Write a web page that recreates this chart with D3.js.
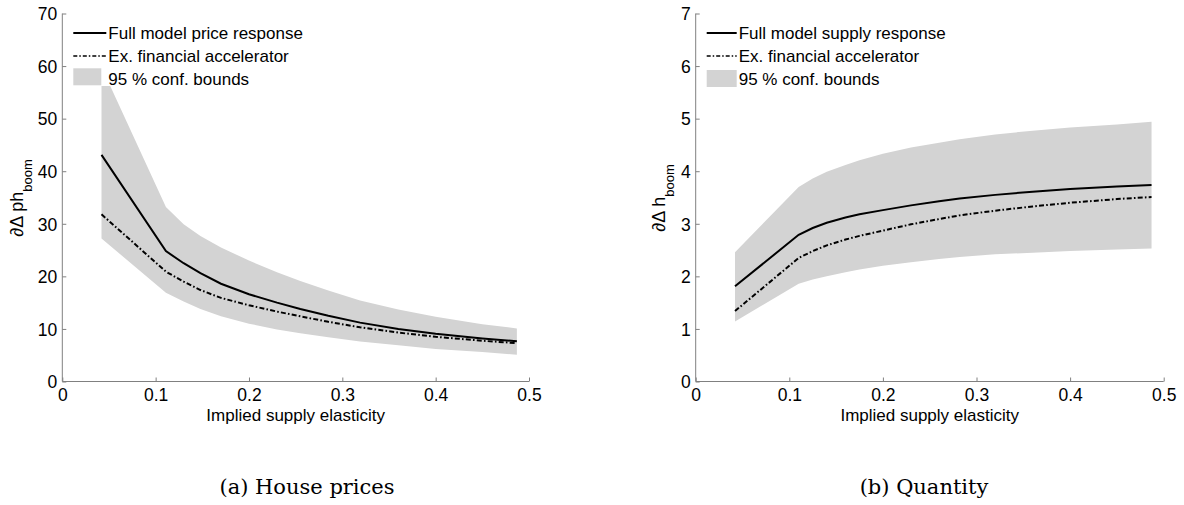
<!DOCTYPE html>
<html><head><meta charset="utf-8">
<script src="https://cdn.jsdelivr.net/npm/d3@7"></script>
<style>body{margin:0;background:#fff;} svg{display:block;}</style>
</head><body><svg id="c" width="1184" height="505"></svg>
<script>
// ---- Data: panel (a) House prices ----
const xPrice = [0.042, 0.111, 0.13, 0.148, 0.17, 0.2, 0.23, 0.255, 0.285, 0.319, 0.36, 0.4, 0.45, 0.487];
const fullPrice = [43.1, 24.8, 22.5, 20.6, 18.6, 16.6, 15.0, 13.8, 12.5, 11.2, 10.0, 9.1, 8.2, 7.65];
const exPrice = [31.8, 20.9, 19.0, 17.4, 15.9, 14.5, 13.3, 12.4, 11.35, 10.3, 9.3, 8.5, 7.75, 7.3];
const upperPrice = [59.8, 33.2, 29.9, 27.7, 25.5, 23.0, 20.8, 19.1, 17.3, 15.4, 13.7, 12.3, 10.9, 10.1];
const lowerPrice = [27.2, 16.9, 15.2, 13.8, 12.4, 11.0, 9.9, 9.2, 8.4, 7.6, 6.9, 6.2, 5.6, 5.1];
// ---- Data: panel (b) Quantity ----
const xQty = [0.042, 0.11, 0.125, 0.14, 0.16, 0.175, 0.2, 0.23, 0.26, 0.282, 0.32, 0.36, 0.4, 0.45, 0.487];
const fullQty = [1.81, 2.79, 2.92, 3.02, 3.12, 3.18, 3.26, 3.35, 3.43, 3.48, 3.55, 3.61, 3.66, 3.71, 3.74];
const exQty = [1.34, 2.35, 2.48, 2.59, 2.70, 2.77, 2.87, 2.99, 3.09, 3.16, 3.25, 3.33, 3.40, 3.47, 3.51];
const upperQty = [2.46, 3.70, 3.86, 3.99, 4.12, 4.21, 4.33, 4.45, 4.54, 4.61, 4.70, 4.77, 4.83, 4.89, 4.94];
const lowerQty = [1.14, 1.86, 1.94, 2.00, 2.08, 2.13, 2.20, 2.27, 2.33, 2.37, 2.42, 2.45, 2.48, 2.51, 2.53];
// ---- Ticks / labels ----
const xTicks = [0, 0.1, 0.2, 0.3, 0.4, 0.5];
const yTicksPrice = [0, 10, 20, 30, 40, 50, 60, 70];
const yTicksQty = [0, 1, 2, 3, 4, 5, 6, 7];
const legendPrice = ["Full model price response", "Ex. financial accelerator", "95 % conf. bounds"];
const legendQty = ["Full model supply response", "Ex. financial accelerator", "95 % conf. bounds"];
const xTitle = "Implied supply elasticity";
const captions = ["(a) House prices", "(b) Quantity"];

const svg = d3.select("#c");
const FONT = "'Liberation Sans', Arial, Helvetica, sans-serif";
const BAND = "#d3d3d3", AX = "#808080";

function panel(cfg) {
  const x = d3.scaleLinear().domain([0, 0.5]).range([cfg.x0, cfg.x1]);
  const y = d3.scaleLinear().domain([0, cfg.ymax]).range([381.5, 13.5]);
  const g = svg.append("g");
  const rows = cfg.xs.map((v, i) => ({x: v, f: cfg.full[i], e: cfg.ex[i], u: cfg.up[i], l: cfg.lo[i]}));
  g.append("path").datum(rows).attr("fill", BAND)
    .attr("d", d3.area().x(d => x(d.x)).y0(d => y(d.l)).y1(d => y(d.u)));
  g.append("path").datum(rows).attr("fill", "none").attr("stroke", "#000").attr("stroke-width", 2)
    .attr("stroke-dasharray", "5,2.2,1.6,2.2")
    .attr("d", d3.line().x(d => x(d.x)).y(d => y(d.e)));
  g.append("path").datum(rows).attr("fill", "none").attr("stroke", "#000").attr("stroke-width", 2)
    .attr("d", d3.line().x(d => x(d.x)).y(d => y(d.f)));

  // axes
  const xa = g.append("g").attr("transform", `translate(0,${y(0)})`)
    .call(d3.axisBottom(x).tickValues(xTicks).tickSize(-4).tickFormat(d3.format("")));
  const ya = g.append("g").attr("transform", `translate(${x(0)},0)`)
    .call(d3.axisLeft(y).tickValues(cfg.yticks).tickSize(-4).tickFormat(d3.format("d")));
  [xa, ya].forEach(a => {
    a.select(".domain").attr("stroke", AX).attr("stroke-width", 1);
    a.selectAll(".tick line").attr("stroke", AX);
    a.selectAll("text").attr("fill", "#000").style("font-family", FONT).style("font-size", "17.5px");
  });
  xa.select(".domain").attr("d", `M${x(0)},0H${x(0.5)}`);
  ya.select(".domain").attr("d", `M0,${y(0)}V${y(cfg.ymax)}`);
  xa.selectAll(".tick text").attr("dy", "0").attr("y", 19.5);
  ya.selectAll(".tick text").attr("x", -5).attr("dy", "0.36em");

  // x title
  g.append("text").attr("x", (cfg.x0 + cfg.x1) / 2).attr("y", 421).attr("text-anchor", "middle")
    .style("font-family", FONT).style("font-size", "17px").text(xTitle);
  // y label
  const yl = g.append("text").attr("transform", `translate(${cfg.ylx},198) rotate(-90)`)
    .attr("text-anchor", "middle").style("font-family", FONT).style("font-size", "18px");
  yl.append("tspan").text(cfg.ylab);
  yl.append("tspan").attr("dy", 9).style("font-size", "13px").text("boom");

  // legend
  const lx = cfg.legX;
  g.append("rect").attr("x", lx - 3).attr("y", 20).attr("width", 250).attr("height", 66).attr("fill", "#fff");
  const rowsY = [33, 56, 79];
  g.append("line").attr("x1", lx).attr("x2", lx + cfg.legW).attr("y1", rowsY[0]).attr("y2", rowsY[0])
    .attr("stroke", "#000").attr("stroke-width", 2);
  g.append("line").attr("x1", lx).attr("x2", lx + cfg.legW).attr("y1", rowsY[1]).attr("y2", rowsY[1])
    .attr("stroke", "#000").attr("stroke-width", 1.5).attr("stroke-dasharray", "4,2,1.5,2");
  g.append("rect").attr("x", lx).attr("y", cfg.patchY).attr("width", cfg.patchW).attr("height", 17).attr("fill", BAND);
  cfg.legend.forEach((t, i) => {
    g.append("text").attr("x", lx + cfg.legW + 2).attr("y", rowsY[i]).attr("dy", "0.36em")
      .style("font-family", FONT).style("font-size", "17px").text(t);
  });
}

panel({x0: 62.3, x1: 529, ymax: 70, yticks: yTicksPrice, xs: xPrice, full: fullPrice, ex: exPrice,
  up: upperPrice, lo: lowerPrice, ylab: "\u2202\u0394 ph", ylx: 23, legX: 73.3, legW: 33, patchW: 28, patchY: 68.3, legend: legendPrice});
panel({x0: 695.7, x1: 1163.7, ymax: 7, yticks: yTicksQty, xs: xQty, full: fullQty, ex: exQty,
  up: upperQty, lo: lowerQty, ylab: "\u2202\u0394 h", ylx: 665, legX: 706.7, legW: 30, patchW: 30, patchY: 70, legend: legendQty});

// captions
[[307, captions[0]], [924, captions[1]]].forEach(([cx, t]) => {
  svg.append("text").attr("x", cx).attr("y", 494).attr("text-anchor", "middle")
    .style("font-family", "'DejaVu Serif', 'Liberation Serif', serif").style("font-size", "21px").text(t);
});
</script></body></html>
